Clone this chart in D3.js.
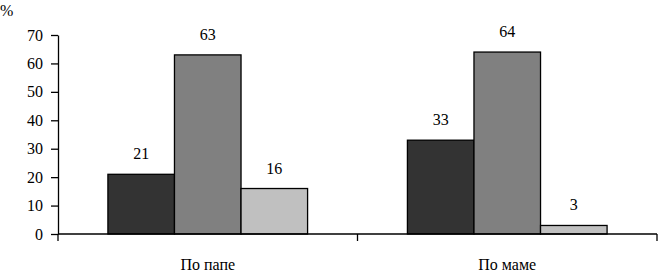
<!DOCTYPE html>
<html>
<head>
<meta charset="utf-8">
<script src="https://cdn.jsdelivr.net/npm/d3@7"></script>
</head>
<body style="margin:0;background:#fff">
<svg id="chart" width="658" height="273"></svg>
<script>
const categories = ["По папе", "По маме"];
const seriesNames = ["a", "b", "c"];
const seriesColors = ["#333333", "#808080", "#c0c0c0"];
const values = [
    [21, 63, 16],
    [33, 64, 3]
];
const yTicks = [0, 10, 20, 30, 40, 50, 60, 70];

const FONT = "'Liberation Serif', serif";
const svg = d3.select("#chart");
const plotLeft = 58, plotRight = 657, plotTop = 35, plotBottom = 234;

const x0 = d3.scaleBand()
    .domain(categories)
    .range([plotLeft, plotRight])
    .paddingInner(0)
    .paddingOuter(0);

// gap = 150% of bar width, split over both sides
const x1 = d3.scaleBand()
    .domain(seriesNames)
    .range([0, x0.bandwidth()])
    .paddingOuter(0.75)
    .paddingInner(0);

const y = d3.scaleLinear().domain([0, 70]).range([plotBottom, plotTop]);

// y axis
const yAxis = svg.append("g")
    .attr("transform", "translate(" + plotLeft + ",0)")
    .call(d3.axisLeft(y).tickValues(yTicks).tickSize(7).tickPadding(8).tickSizeOuter(0));
yAxis.attr("font-family", null);
yAxis.select(".domain").attr("stroke", "#000").attr("stroke-width", 1.3);
yAxis.selectAll(".tick line").attr("stroke", "#000").attr("stroke-width", 1.3);
yAxis.selectAll("text")
    .attr("fill", "#000")
    .style("font-size", "16px")
    .style("font-family", FONT);

// bars
const groups = svg.append("g").selectAll("g")
    .data(values)
    .join("g")
    .attr("transform", (d, i) => "translate(" + x0(categories[i]) + ",0)");

groups.selectAll("rect")
    .data(d => d.map((v, j) => ({v, j})))
    .join("rect")
    .attr("x", d => x1(seriesNames[d.j]))
    .attr("y", d => y(d.v))
    .attr("width", x1.bandwidth())
    .attr("height", d => y(0) - y(d.v))
    .attr("fill", d => seriesColors[d.j])
    .attr("stroke", "#000")
    .attr("stroke-width", 1.3);

groups.selectAll("text.val")
    .data(d => d.map((v, j) => ({v, j})))
    .join("text")
    .attr("class", "val")
    .attr("x", d => x1(seriesNames[d.j]) + x1.bandwidth() / 2)
    .attr("y", d => y(d.v) - 15)
    .attr("text-anchor", "middle")
    .style("font-size", "16px")
    .style("font-family", FONT)
    .text(d => d.v);

// x axis
const xAxis = svg.append("g")
    .attr("transform", "translate(0," + plotBottom + ")");
xAxis.append("line")
    .attr("x1", plotLeft).attr("x2", plotRight)
    .attr("stroke", "#000").attr("stroke-width", 1.3);
const boundaries = [plotLeft].concat(categories.map(c => x0(c) + x0.bandwidth()));
xAxis.selectAll("line.tick")
    .data(boundaries)
    .join("line")
    .attr("class", "tick")
    .attr("x1", d => d).attr("x2", d => d)
    .attr("y1", 0).attr("y2", 7)
    .attr("stroke", "#000").attr("stroke-width", 1.3);
xAxis.selectAll("text")
    .data(categories)
    .join("text")
    .attr("x", d => x0(d) + x0.bandwidth() / 2)
    .attr("y", 36)
    .attr("text-anchor", "middle")
    .style("font-size", "16px")
    .style("font-family", FONT)
    .text(d => d);

svg.append("text")
    .attr("x", 0)
    .attr("y", 16)
    .style("font-size", "16px")
    .style("font-family", FONT)
    .text("%");
</script>
</body>
</html>
